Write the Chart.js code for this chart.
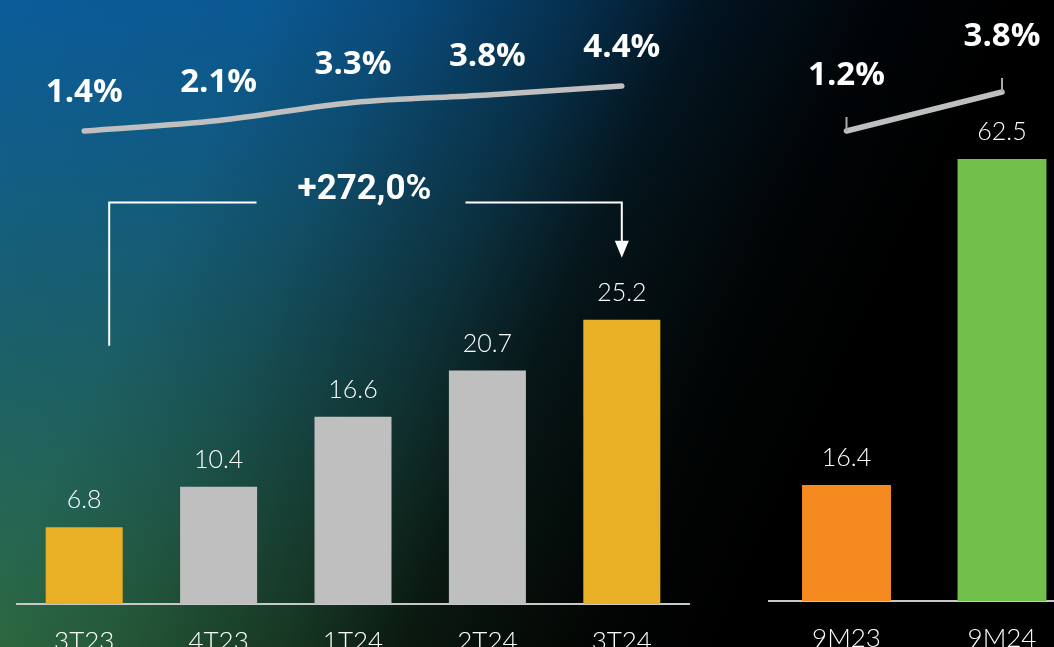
<!DOCTYPE html>
<html><head><meta charset="utf-8">
<script src="https://cdn.jsdelivr.net/npm/chart.js@4"></script>
<style>
html,body{margin:0;padding:0;width:1054px;height:647px;overflow:hidden;background:#000;}
#bg{position:absolute;left:0;top:0;width:1054px;height:647px;
background:
 linear-gradient(115deg, rgba(0,0,0,0) 0%, rgba(0,0,0,0.05) 20%, rgba(0,0,0,0.2) 30%, rgba(0,0,0,0.5) 43%, rgba(0,0,0,0.78) 52%, rgba(0,0,0,0.95) 65%, #000 75%),
 linear-gradient(180deg, #0b5c9a 0%, #125f88 25%, #1a6272 48%, #2f7045 100%);}
#c1{position:absolute;left:0;top:0;}
#c2{position:absolute;left:740px;top:0;}
</style></head>
<body><div id="bg"></div>
<canvas id="c1" width="720" height="647"></canvas>
<canvas id="c2" width="360" height="647"></canvas>
<script>
const quarterLabels = ['3T23','4T23','1T24','2T24','3T24'];
const quarterValues = [6.8, 10.4, 16.6, 20.7, 25.2];
const quarterRates = [1.4, 2.1, 3.3, 3.8, 4.4];
const quarterColors = ['#e9b025','#bfbfbf','#bfbfbf','#bfbfbf','#e9b025'];
const periodLabels = ['9M23','9M24'];
const periodValues = [16.4, 62.5];
const periodRates = [1.2, 3.8];
const periodColors = ['#f58b20','#72bf4b'];
const growthLabel = '+272,0%';

const fmt1 = v => v.toFixed(1);

function labelPlugin(rateOffset, drawTicks){
  return {
    id:'labels',
    afterDatasetsDraw(chart){
      const ctx = chart.ctx;
      ctx.save();
      const barMeta = chart.getDatasetMeta(0);
      const barData = chart.data.datasets[0].data;
      ctx.fillStyle = '#ffffff';
      ctx.textAlign = 'center';
      ctx.textBaseline = 'middle';
      ctx.font = '300 25px Lato, "Open Sans", sans-serif';
      barMeta.data.forEach((el,i)=>{
        ctx.fillText(fmt1(barData[i]), el.x, el.y - 27);
      });
      const lineMeta = chart.getDatasetMeta(1);
      const lineData = chart.data.datasets[1].data;
      ctx.font = 'bold 33px "Open Sans", Lato, sans-serif';
      lineMeta.data.forEach((pt,i)=>{
        ctx.fillText(fmt1(lineData[i]) + '%', pt.x, pt.y - rateOffset);
      });
      if (drawTicks){
        ctx.strokeStyle = '#a8a8a8';
        ctx.lineWidth = 2;
        lineMeta.data.forEach(pt=>{
          ctx.beginPath();
          ctx.moveTo(pt.x, pt.y);
          ctx.lineTo(pt.x, pt.y - 14);
          ctx.stroke();
        });
      }
      ctx.restore();
    }
  };
}

const bracketPlugin = {
  id:'bracket',
  afterDatasetsDraw(chart){
    const {ctx, scales:{x, y}} = chart;
    const xl = x.getPixelForValue(0) + 25;
    const xr = x.getPixelForValue(4);
    const yt = y.getPixelForValue(35.6);
    const yb = y.getPixelForValue(22.9);
    const ytip = y.getPixelForValue(30.7);
    const cx = (xl + xr) / 2;
    ctx.save();
    ctx.strokeStyle = '#ffffff';
    ctx.fillStyle = '#ffffff';
    ctx.lineWidth = 2;
    ctx.beginPath();
    ctx.moveTo(xl, yb); ctx.lineTo(xl, yt); ctx.lineTo(cx - 109, yt);
    ctx.moveTo(cx + 100, yt); ctx.lineTo(xr, yt); ctx.lineTo(xr, ytip - 16);
    ctx.stroke();
    ctx.beginPath();
    ctx.moveTo(xr - 7, ytip - 17); ctx.lineTo(xr + 7, ytip - 17); ctx.lineTo(xr, ytip);
    ctx.closePath(); ctx.fill();
    ctx.textAlign = 'center';
    ctx.textBaseline = 'middle';
    ctx.font = 'bold 35px Roboto, "Open Sans", sans-serif';
    ctx.fillText(growthLabel, cx - 1, yt - 12);
    ctx.restore();
  }
};

function xAxis(h){
  return {
    grid:{display:false, drawTicks:false},
    border:{display:true, color:'#c8c8c8', width:2},
    ticks:{color:'#ffffff', font:{family:'Lato', size:26, weight:300}, padding:22, maxRotation:0},
    afterFit(s){ s.height = h; }
  };
}

new Chart(document.getElementById('c1'), {
  data:{
    labels: quarterLabels,
    datasets:[
      {type:'bar', data: quarterValues, backgroundColor: quarterColors, yAxisID:'y',
       categoryPercentage:1, barPercentage:0.573, order:2},
      {type:'line', data: quarterRates, yAxisID:'yr', borderColor:'#bfbfbf', borderWidth:5.5,
       pointRadius:0, tension:0.35, borderCapStyle:'round', fill:false, order:1}
    ]
  },
  options:{
    responsive:false, animation:false,
    layout:{padding:{left:17, right:31, top:0, bottom:0}},
    plugins:{legend:{display:false}, tooltip:{enabled:false}},
    scales:{
      x: xAxis(43),
      y:{display:false, min:0, max:53.55},
      yr:{display:false, min:-30.13, max:10.13}
    }
  },
  plugins:[labelPlugin(38, false), bracketPlugin]
});

new Chart(document.getElementById('c2'), {
  data:{
    labels: periodLabels,
    datasets:[
      {type:'bar', data: periodValues, backgroundColor: periodColors, yAxisID:'y',
       categoryPercentage:1, barPercentage:0.572, order:2},
      {type:'line', data: periodRates, yAxisID:'yr', borderColor:'#bfbfbf', borderWidth:5.5,
       pointRadius:0, tension:0, borderCapStyle:'round', fill:false, order:1}
    ]
  },
  options:{
    responsive:false, animation:false,
    layout:{padding:{left:28.75, right:20.25, top:0, bottom:0}},
    plugins:{legend:{display:false}, tooltip:{enabled:false}},
    scales:{
      x: xAxis(46),
      y:{display:false, min:0, max:85.0},
      yr:{display:false, min:-30.13, max:9.93}
    }
  },
  plugins:[labelPlugin(55, true)]
});
</script>
</body></html>
